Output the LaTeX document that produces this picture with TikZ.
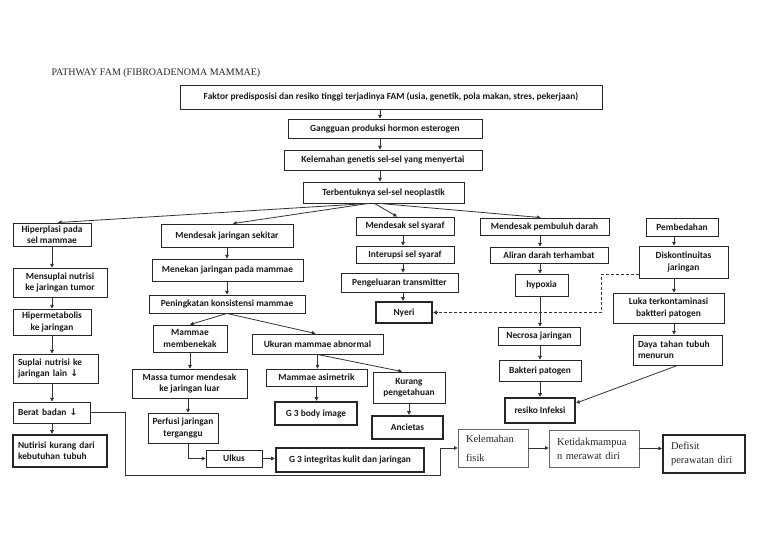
\documentclass[tikz,border=0pt]{standalone}
\usepackage{fontspec}
\setmainfont{Carlito}
\newfontfamily\serifx{Liberation Serif}
\newfontfamily\dejavu{DejaVu Sans}
\usetikzlibrary{arrows.meta,calc}
\begin{document}
\begin{tikzpicture}[x=1pt,y=-1pt,
  ln/.style={draw=black!80, line width=0.8pt},
  arr/.style={ln, -{Triangle[length=3.6pt,width=3.6pt]}},
  dashline/.style={arr, dashed, dash pattern=on 3pt off 2pt},
  box/.style={draw=black!85, line width=0.9pt, inner sep=1pt, align=center,
    font=\bfseries\fontsize{9.4}{11.2}\selectfont, text=black!90},
  tbox/.style={box, line width=2.4pt},
  sz/.style 2 args={minimum width=#1pt, minimum height=#2pt},
  lft/.style={align=left, inner xsep=5pt, text width=#1pt},
  sbox/.style={draw=black!60, line width=0.7pt, align=left, inner xsep=8pt,
    font=\serifx\fontsize{10.5}{14}\selectfont, text=black!85}
]
\useasboundingbox (0,0) rectangle (768,543);
\fill[white] (0,0) rectangle (768,543);

\node[anchor=base west, font=\serifx\fontsize{10}{12}\selectfont, text=black!85] (title) at (48,75) {PATHWAY FAM (FIBROADENOMA MAMMAE)};

% top chain
\node[box, sz={422}{24}] (n1) at (391,97) {Faktor predisposisi dan resiko tinggi terjadinya FAM (usia, genetik, pola makan, stres, pekerjaan)};
\node[box, sz={194}{19}] (n2) at (385,128.5) {Gangguan produksi hormon esterogen};
\node[box, sz={198}{20}] (n3) at (383,160) {Kelemahan genetis sel-sel yang menyertai};
\node[box, sz={161}{21}] (n4) at (383.5,192.5) {Terbentuknya sel-sel neoplastik};
\coordinate (cx) at (380,0);
\draw[arr] (n1.south -| cx) -- (n2.north -| cx);
\draw[arr] (n2.south -| cx) -- (n3.north -| cx);
\draw[arr] (n3.south -| cx) -- (n4.north -| cx);

% column 1
\node[box, sz={78}{23}] (hip) at (52,234.5) {Hiperplasi pada\\sel mammae};
\node[box, sz={94}{29}] (mns) at (60,282.5) {Mensuplai nutrisi\\ke jaringan tumor};
\node[box, sz={78}{26}] (hpm) at (52,322) {Hipermetabolis\\ke jaringan};
\node[box, sz={85}{29}, lft=75] (sup) at (55.5,368.5) {Suplai nutrisi ke\\jaringan lain {\dejavu\bfseries ↓}};
\node[box, sz={77}{21}, lft=67] (brt) at (51.5,412.5) {Berat badan {\dejavu\bfseries ↓}};
\node[tbox, sz={94}{32}, lft=84] (nut) at (60,451) {Nutirisi kurang dari\\kebutuhan tubuh};
\draw[arr] (hip.south) -- (mns.north -| hip.south);
\draw[arr] (mns.south -| hip.south) -- (hpm.north);
\draw[arr] (hpm.south) -- (sup.north -| hpm.south);
\draw[arr] (sup.south -| hpm.south) -- (brt.north -| hpm.south);
\draw[arr] (brt.south -| hpm.south) -- (nut.north -| hpm.south);

% column 2
\node[box, sz={132}{23}] (mjs) at (227,235.5) {Mendesak jaringan sekitar};
\node[box, sz={151}{22}] (mjm) at (227.5,270) {Menekan jaringan pada mammae};
\node[box, sz={156}{18}] (pkm) at (227,304) {Peningkatan konsistensi mammae};
\node[box, sz={74}{27}] (mmb) at (190,338.5) {Mammae\\membenekak};
\node[box, sz={131}{20}] (uma) at (317.5,344) {Ukuran mammae abnormal};
\node[box, sz={115}{29}] (mtm) at (189.5,383.5) {Massa tumor mendesak\\ke jaringan luar};
\node[box, sz={70}{30}] (pji) at (183,428) {Perfusi jaringan\\terganggu};
\node[box, sz={56}{17}] (ulk) at (234,458.5) {Ulkus};
\node[tbox, sz={148}{24}] (g3i) at (350,460) {G 3 integritas kulit dan jaringan};
\node[box, sz={101}{17}] (masi) at (316.5,377.5) {Mammae asimetrik};
\node[tbox, sz={82}{23}] (g3b) at (316,413.5) {G 3 body image};
\node[box, sz={72}{31}] (kp) at (409,387.5) {Kurang\\pengetahuan};
\node[tbox, sz={71}{23}] (anc) at (407.5,427.5) {Ancietas};
\coordinate (cm) at ([xshift=-1.5pt]mtm.south);
\draw[arr] (mjs.south) -- (mjm.north -| mjs.south);
\draw[arr] (mjm.south -| mjs.south) -- (pkm.north -| mjs.south);
\draw[arr] (pkm.south) -- (mmb.north);
\draw[arr] (pkm.south) -- ([xshift=-2pt]uma.north);
\draw[arr] (mmb.south) -- (mtm.north -| mmb.south);
\draw[arr] (cm) -- (pji.north -| cm);
\draw[arr] (pji.south -| cm) |- (ulk.west);
\draw[arr] (ulk.east) -- (g3i.west |- ulk.east);
\draw[arr] (uma.south) -- (masi.north -| uma.south);
\draw[arr] (masi.south) -- (g3b.north -| masi.south);
\draw[arr] (uma.south) -- ([xshift=-7pt]kp.north);
\draw[arr] (kp.south) -- (anc.north -| kp.south);

% column 3
\node[box, sz={98}{18}] (mss) at (405,226) {Mendesak sel syaraf};
\node[box, sz={98}{17}] (iss) at (405,254.5) {Interupsi sel syaraf};
\node[box, sz={117}{19}] (pt) at (399.5,282.5) {Pengeluaran transmitter};
\node[tbox, sz={56}{21}] (ny) at (404,312.5) {Nyeri};
\coordinate (cy) at (403,0);
\draw[arr] (mss.south -| cy) -- (iss.north -| cy);
\draw[arr] (iss.south -| cy) -- (pt.north -| cy);
\draw[arr] (pt.south -| cy) -- (ny.north -| cy);

% column 4
\node[box, sz={129}{17}] (mpd) at (544.5,226.5) {Mendesak pembuluh darah};
\node[box, sz={118}{16}] (adt) at (549,255) {Aliran darah terhambat};
\node[box, sz={53}{22}] (hyp) at (541.5,285) {hypoxia};
\node[box, sz={82}{18}] (nec) at (539,336) {Necrosa jaringan};
\node[box, sz={82}{21}] (bak) at (540,370.5) {Bakteri patogen};
\node[tbox, sz={70}{25}] (ri) at (540,410.5) {resiko Infeksi};
\coordinate (cz) at (540,0);
\draw[arr] (mpd.south -| cz) -- (adt.north -| cz);
\draw[arr] (adt.south -| cz) -- (hyp.north -| cz);
\draw[arr] (hyp.south -| cz) -- (nec.north -| cz);
\draw[arr] (nec.south -| cz) -- (bak.north -| cz);
\draw[arr] (bak.south -| cz) -- (ri.north -| cz);

% column 5
\node[box, sz={72}{18}] (pmb) at (682,227) {Pembedahan};
\node[box, sz={89}{32}] (dsk) at (683.5,262) {Diskontinuitas\\jaringan};
\node[box, sz={111}{30}] (luka) at (668.5,308) {Luka terkontaminasi\\baktteri patogen};
\node[box, sz={89}{30}, lft=79] (dth) at (677.5,350) {Daya tahan tubuh\\menurun};
\coordinate (cw) at (674,0);
\draw[arr] (pmb.south -| cw) -- (dsk.north -| cw);
\draw[arr] (dsk.south -| cw) -- (luka.north -| cw);
\draw[arr] (luka.south -| cw) -- (dth.north -| cw);
\draw[arr] (dth.south) -- ([yshift=7.5pt]ri.east);
\draw[dashline] ([yshift=-12pt]dsk.west) -- ++(-37,0) |- (ny.east);

% fan from n4
\coordinate (fan) at ([xshift=-15pt]n4.south);
\draw[arr] (fan) -- ([xshift=6pt]hip.north);
\draw[arr] (fan) -- ([xshift=6pt]mjs.north);
\draw[arr] ([xshift=-9pt]n4.south) -- ([xshift=-8pt]mss.north);
\draw[arr] ([xshift=-4pt]n4.south) -- ([xshift=-4pt]mpd.north);

% bottom serif chain
\node[sbox, sz={70}{38}, text width=54pt, font=\serifx\fontsize{10.5}{19}\selectfont] (kf) at (493,448) {Kelemahan\\fisik};
\node[sbox, sz={90}{37}, text width=74pt] (kmd) at (594,448.5) {Ketidakmampua\\n merawat diri};
\node[sbox, draw=black!85, line width=2pt, sz={82}{38}, text width=66pt] (dpd) at (704,454) {Defisit\\perawatan diri};
\draw[arr] (kf.east) -- (kmd.west |- kf.east);
\draw[arr] (kmd.east) -- (dpd.west |- kmd.east);
\coordinate (b1) at (125,475);
\coordinate (b2) at (440,475);
\draw[arr] (brt.east) -| (b1) -- (b2) |- (kf.west);
\end{tikzpicture}
\end{document}
